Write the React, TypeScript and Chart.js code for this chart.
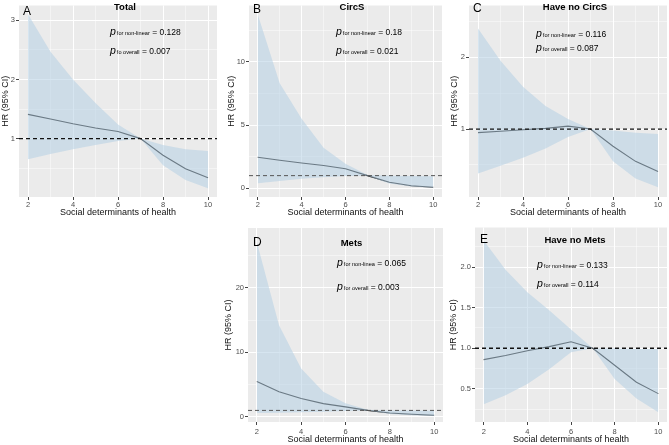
import React, { useEffect, useRef } from "react";
import { Chart, registerables } from "chart.js";
Chart.register(...registerables);

// ---------- data ----------
const SDOH = [2, 3, 4, 5, 6, 7, 8, 9, 10];
const X_MAJOR = [2, 4, 6, 8, 10];
const X_MINOR = [3, 5, 7, 9];
const REF_HR = 1;

const TOTAL_HR = [1.41, 1.33, 1.25, 1.18, 1.12, 1.0, 0.72, 0.49, 0.34];
const TOTAL_LOWER = [0.65, 0.74, 0.82, 0.89, 0.96, 1.0, 0.55, 0.3, 0.16];
const TOTAL_UPPER = [3.1, 2.47, 2.0, 1.6, 1.24, 1.0, 0.89, 0.82, 0.79];

const CIRCS_HR = [2.45, 2.22, 2.0, 1.8, 1.55, 1.0, 0.47, 0.2, 0.08];
const CIRCS_LOWER = [0.4, 0.58, 0.75, 0.88, 0.97, 1.0, 0.38, 0.14, 0.05];
const CIRCS_UPPER = [13.75, 8.3, 5.5, 3.2, 1.95, 1.05, 1.0, 0.98, 0.96];

const NOCIRCS_HR = [0.95, 0.97, 0.99, 1.01, 1.04, 1.0, 0.76, 0.55, 0.41];
const NOCIRCS_LOWER = [0.38, 0.49, 0.6, 0.73, 0.89, 1.0, 0.55, 0.31, 0.19];
const NOCIRCS_UPPER = [2.4, 1.95, 1.59, 1.32, 1.14, 1.0, 0.98, 0.95, 0.93];

const METS_HR = [5.5, 3.9, 2.85, 2.05, 1.55, 1.0, 0.6, 0.4, 0.25];
const METS_LOWER = [0.6, 0.65, 0.7, 0.8, 0.9, 1.0, 0.45, 0.25, 0.15];
const METS_UPPER = [27.1, 14.2, 7.5, 3.9, 2.1, 1.1, 1.0, 1.0, 0.95];

const NOMETS_HR = [0.86, 0.91, 0.97, 1.02, 1.08, 1.0, 0.79, 0.58, 0.44];
const NOMETS_LOWER = [0.31, 0.42, 0.56, 0.74, 0.95, 1.0, 0.62, 0.38, 0.21];
const NOMETS_UPPER = [2.33, 1.97, 1.69, 1.47, 1.23, 1.0, 1.0, 0.99, 0.99];

const PANEL_TAGS = ["A", "B", "C", "D", "E"];
const PANEL_TITLES = ["Total", "CircS", "Have no CircS", "Mets", "Have no Mets"];
const P_NONLINEAR = ["0.128", "0.18", "0.116", "0.065", "0.133"];
const P_OVERALL = ["0.007", "0.021", "0.087", "0.003", "0.114"];
const SUB_NONLINEAR = ["for non-linear", "for non-linear", "for non-linear", "for non-linea", "for non-linear"];
const SUB_OVERALL = ["fo overall", "for overall", "for overall", "for overall", "for overall"];

const Y_MAJOR = [[1, 2, 3], [0, 5, 10], [1, 2], [0, 10, 20], [0.5, 1.0, 1.5, 2.0]];
const Y_MINOR = [[0.5, 1.5, 2.5], [2.5, 7.5, 12.5], [0.5, 1.5, 2.5], [5, 15, 25], [0.25, 0.75, 1.25, 1.75, 2.25]];
const Y_LIMITS = [[0.013, 3.25], [-0.69, 14.46], [0.054, 2.72], [-0.8, 29.3], [0.09, 2.49]];
const Y_DECIMALS = [0, 0, 0, 0, 1];

const X_TITLE = "Social determinants of health";
const Y_TITLE = "HR (95% CI)";

const SERIES = [
  [TOTAL_HR, TOTAL_LOWER, TOTAL_UPPER],
  [CIRCS_HR, CIRCS_LOWER, CIRCS_UPPER],
  [NOCIRCS_HR, NOCIRCS_LOWER, NOCIRCS_UPPER],
  [METS_HR, METS_LOWER, METS_UPPER],
  [NOMETS_HR, NOMETS_LOWER, NOMETS_UPPER],
];

// ---------- layout (page coordinates) ----------
const LAYOUT = [
  { x0: 0, y0: 0, w: 222, h: 222, L: 19, R: 217, T: 0, B: 197, yTitlePad: 1, xTitlePad: 4.5, xTickPad: 0,
    tag: [23, 15], title: [125, 9.5], p1: [110, 35], p2: [110, 54], dash: "#111", dashW: 1.3 },
  { x0: 222, y0: 0, w: 223, h: 222, L: 249, R: 442, T: 0, B: 197, yTitlePad: 5.5, xTitlePad: 4.5, xTickPad: 0,
    tag: [253, 12.5], title: [352, 10], p1: [336, 35], p2: [336, 53.5], dash: "#555", dashW: 1 },
  { x0: 445, y0: 0, w: 224, h: 222, L: 469, R: 667, T: 0, B: 197, yTitlePad: 4.8, xTitlePad: 4.5, xTickPad: 0,
    tag: [473, 12], title: [575, 9.5], p1: [536, 36.5], p2: [536, 51], dash: "#111", dashW: 1.3 },
  { x0: 222, y0: 222, w: 223, h: 223, L: 248, R: 443, T: 228, B: 422, yTitlePad: 2.5, xTitlePad: 1, xTickPad: 2,
    tag: [253, 246], title: [351.5, 245.5], p1: [337, 265.5], p2: [337, 289.5], dash: "#555", dashW: 1 },
  { x0: 445, y0: 222, w: 224, h: 223, L: 475, R: 667, T: 227, B: 422, yTitlePad: 4.5, xTitlePad: 1, xTickPad: 2,
    tag: [480, 243], title: [575, 243], p1: [537, 267.5], p2: [537, 287], dash: "#111", dashW: 1.3 },
];

const FONT = "'Liberation Sans', Arial, sans-serif";
const RIBBON = "rgba(180,208,228,0.55)";
const PANEL_BG = "#EBEBEB";

function near(list: number[], v: number) {
  return list.some((m) => Math.abs(m - v) < 1e-6);
}

function drawP(ctx: CanvasRenderingContext2D, x: number, y: number, sub: string, val: string) {
  ctx.save();
  ctx.fillStyle = "#000";
  ctx.textAlign = "left";
  ctx.textBaseline = "alphabetic";
  ctx.font = `italic 10.5px ${FONT}`;
  ctx.fillText("p", x, y);
  let cx = x + ctx.measureText("p").width + 1;
  ctx.font = `5.6px ${FONT}`;
  ctx.fillText(sub, cx, y);
  cx += ctx.measureText(sub).width;
  ctx.font = `8.5px ${FONT}`;
  ctx.fillText(" = " + val, cx, y);
  ctx.restore();
}

function Panel({ idx }: { idx: number }) {
  const ref = useRef<HTMLCanvasElement | null>(null);
  const lay = LAYOUT[idx];
  useEffect(() => {
    const [hr, lower, upper] = SERIES[idx];
    const yMajor = Y_MAJOR[idx];
    const yMinor = Y_MINOR[idx];
    const yTicks = [...yMajor, ...yMinor].sort((a, b) => a - b);
    const xTicks = [...X_MAJOR, ...X_MINOR].sort((a, b) => a - b);
    const ox = lay.x0;
    const oy = lay.y0;

    const panelPlugin = {
      id: "panelDeco" + idx,
      beforeDraw(chart: any) {
        const { ctx, chartArea: a } = chart;
        ctx.save();
        ctx.fillStyle = PANEL_BG;
        ctx.fillRect(a.left, a.top, a.right - a.left, a.bottom - a.top);
        ctx.restore();
      },
      afterDatasetsDraw(chart: any) {
        const { ctx, chartArea: a } = chart;
        const y = chart.scales.y.getPixelForValue(REF_HR);
        ctx.save();
        ctx.beginPath();
        ctx.rect(a.left, a.top, a.right - a.left, a.bottom - a.top);
        ctx.clip();
        ctx.strokeStyle = lay.dash;
        ctx.lineWidth = lay.dashW;
        ctx.setLineDash([4, 3]);
        ctx.beginPath();
        ctx.moveTo(a.left, y);
        ctx.lineTo(a.right, y);
        ctx.stroke();
        ctx.restore();
      },
      afterDraw(chart: any) {
        const { ctx } = chart;
        ctx.save();
        ctx.fillStyle = "#000";
        ctx.textBaseline = "alphabetic";
        ctx.textAlign = "left";
        ctx.font = `12px ${FONT}`;
        ctx.fillText(PANEL_TAGS[idx], lay.tag[0] - ox, lay.tag[1] - oy);
        ctx.textAlign = "center";
        ctx.font = `bold 9.5px ${FONT}`;
        ctx.fillText(PANEL_TITLES[idx], lay.title[0] - ox, lay.title[1] - oy);
        ctx.restore();
        drawP(ctx, lay.p1[0] - ox, lay.p1[1] - oy, SUB_NONLINEAR[idx], P_NONLINEAR[idx]);
        drawP(ctx, lay.p2[0] - ox, lay.p2[1] - oy, SUB_OVERALL[idx], P_OVERALL[idx]);
      },
    };

    const gridOpts = (major: number[]) => ({
      color: (c: any) => (c.tick && near(major, c.tick.value) ? "#FFFFFF" : "rgba(255,255,255,0.75)"),
      lineWidth: (c: any) => (c.tick && near(major, c.tick.value) ? 1 : 0.6),
      tickColor: (c: any) => (c.tick && near(major, c.tick.value) ? "#444" : "rgba(0,0,0,0)"),
      tickWidth: 1,
      tickLength: 3,
      drawTicks: true,
    });

    const chart = new Chart(ref.current as HTMLCanvasElement, {
      type: "line",
      data: {
        datasets: [
          {
            data: SDOH.map((x, i) => ({ x, y: upper[i] })),
            borderColor: "rgba(0,0,0,0)",
            borderWidth: 0,
            backgroundColor: RIBBON,
            pointRadius: 0,
            fill: "+1",
            tension: 0,
          },
          {
            data: SDOH.map((x, i) => ({ x, y: lower[i] })),
            borderColor: "rgba(0,0,0,0)",
            borderWidth: 0,
            pointRadius: 0,
            fill: false,
            tension: 0,
          },
          {
            data: SDOH.map((x, i) => ({ x, y: hr[i] })),
            borderColor: "#111",
            borderWidth: 1.1,
            pointRadius: 0,
            fill: false,
            tension: 0,
          },
        ],
      },
      options: {
        responsive: false,
        animation: false,
        events: [],
        layout: {
          padding: { left: 0, right: lay.x0 + lay.w - lay.R, top: lay.T - lay.y0, bottom: 0 },
        },
        plugins: { legend: { display: false }, tooltip: { enabled: false } },
        scales: {
          x: {
            type: "linear",
            min: 1.6,
            max: 10.4,
            afterBuildTicks: (s: any) => {
              s.ticks = xTicks.map((v) => ({ value: v }));
            },
            afterFit: (s: any) => {
              s.height = lay.y0 + lay.h - lay.B;
            },
            border: { display: false },
            grid: gridOpts(X_MAJOR) as any,
            ticks: {
              autoSkip: false,
              maxRotation: 0,
              padding: lay.xTickPad,
              color: "#4D4D4D",
              font: { family: FONT, size: 7.5 },
              callback: (v: any) => (near(X_MAJOR, Number(v)) ? String(v) : ""),
            },
            title: {
              display: true,
              text: X_TITLE,
              color: "#111",
              font: { family: FONT, size: 9, lineHeight: 1 },
              padding: { top: 0, bottom: lay.xTitlePad },
            },
          },
          y: {
            type: "linear",
            min: Y_LIMITS[idx][0],
            max: Y_LIMITS[idx][1],
            afterBuildTicks: (s: any) => {
              s.ticks = yTicks.map((v) => ({ value: v }));
            },
            afterFit: (s: any) => {
              s.width = lay.L - lay.x0;
            },
            border: { display: false },
            grid: gridOpts(yMajor) as any,
            ticks: {
              autoSkip: false,
              padding: 1,
              color: "#4D4D4D",
              font: { family: FONT, size: 7.5 },
              callback: (v: any) => (near(yMajor, Number(v)) ? Number(v).toFixed(Y_DECIMALS[idx]) : ""),
            },
            title: {
              display: true,
              text: Y_TITLE,
              color: "#111",
              font: { family: FONT, size: 9, lineHeight: 1 },
              padding: { top: lay.yTitlePad, bottom: 0 },
            },
          },
        },
      } as any,
      plugins: [panelPlugin],
    });
    return () => chart.destroy();
  }, []);
  return (
    <canvas
      ref={ref}
      width={lay.w}
      height={lay.h}
      style={{ position: "absolute", left: lay.x0, top: lay.y0, width: lay.w, height: lay.h, display: "block" }}
    />
  );
}

export default function App() {
  return (
    <div style={{ position: "absolute", left: 0, top: 0, width: 669, height: 445, background: "#fff", overflow: "hidden" }}>
      {PANEL_TAGS.map((_, i) => (
        <Panel key={i} idx={i} />
      ))}
    </div>
  );
}
